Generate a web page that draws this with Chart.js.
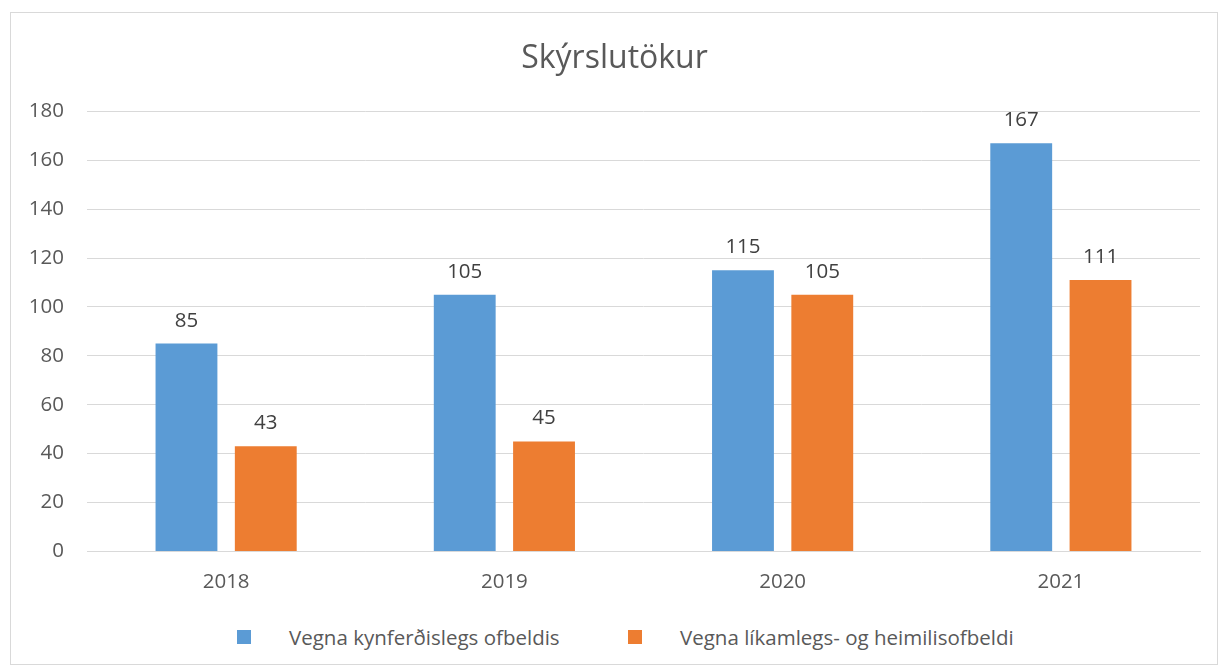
<!DOCTYPE html>
<html>
<head>
<meta charset="utf-8">
<script src="https://cdn.jsdelivr.net/npm/chart.js@4/dist/chart.umd.min.js"></script>
<style>
  body { margin: 0; background: #fff; font-family: 'Open Sans', sans-serif; }
  #frame { position: absolute; left: 10px; top: 12px; width: 1206px; height: 651px; border: 1px solid #d9d9d9; }
  #wrap { position: absolute; left: 0; top: 0; width: 1206px; height: 591px; }
  #legend { position: absolute; top: 607px; left: 0; width: 1206px; height: 34px; font-size: 20.5px; color: #595959; }
  .item { position: absolute; top: 0; display: flex; align-items: center; height: 34px; white-space: nowrap; }
  .sw { width: 14px; height: 14px; margin-right: 38px; }
</style>
</head>
<body>
<div id="frame">
  <div id="wrap"><canvas id="chart"></canvas></div>
  <div id="legend"></div>
</div>
<script>
const title = 'Skýrslutökur';
const years = ['2018', '2019', '2020', '2021'];
const seriesNames = ['Vegna kynferðislegs ofbeldis', 'Vegna líkamlegs- og heimilisofbeldi'];
const sexualAbuse = [85, 105, 115, 167];
const physicalAbuse = [43, 45, 105, 111];
const colors = ['#5B9BD5', '#ED7D31'];

// value above each bar
const valueLabels = {
  id: 'valueLabels',
  afterDatasetsDraw(chart) {
    const ctx = chart.ctx;
    ctx.save();
    ctx.font = '20.5px "Open Sans"';
    ctx.fillStyle = '#404040';
    ctx.textAlign = 'center';
    ctx.textBaseline = 'alphabetic';
    chart.data.datasets.forEach((ds, i) => {
      chart.getDatasetMeta(i).data.forEach((bar, j) => {
        ctx.fillText(ds.data[j], bar.x, bar.y - 17);
      });
    });
    ctx.restore();
  }
};

new Chart(document.getElementById('chart'), {
  type: 'bar',
  data: {
    labels: years,
    datasets: [
      { label: seriesNames[0], data: sexualAbuse, backgroundColor: colors[0] },
      { label: seriesNames[1], data: physicalAbuse, backgroundColor: colors[1] }
    ]
  },
  options: {
    responsive: true,
    maintainAspectRatio: false,
    animation: false,
    categoryPercentage: 0.57,
    barPercentage: 0.78,
    layout: { padding: { left: 18, right: 17, top: 0, bottom: 0 } },
    plugins: {
      legend: { display: false },
      tooltip: { enabled: false },
      title: {
        display: true,
        text: title,
        color: '#595959',
        font: { family: 'Open Sans', size: 32, weight: 'normal' },
        padding: { top: 27, bottom: 33 }
      }
    },
    scales: {
      x: {
        grid: { display: false },
        border: { color: '#d9d9d9' },
        ticks: { color: '#595959', font: { family: 'Open Sans', size: 20.5 }, padding: 10 }
      },
      y: {
        min: 0,
        max: 180,
        ticks: { stepSize: 20, color: '#595959', font: { family: 'Open Sans', size: 20.5 }, padding: 23 },
        grid: { color: '#d9d9d9', drawTicks: false },
        border: { display: false },
        afterFit(scale) { scale.width = 58; }
      }
    }
  },
  plugins: [valueLabels]
});

const legend = document.getElementById('legend');
const legendX = [226, 617];
seriesNames.forEach((name, i) => {
  const item = document.createElement('div');
  item.className = 'item';
  item.style.left = legendX[i] + 'px';
  item.innerHTML = '<span class="sw" style="background:' + colors[i] + '"></span><span>' + name + '</span>';
  legend.appendChild(item);
});
</script>
</body>
</html>
